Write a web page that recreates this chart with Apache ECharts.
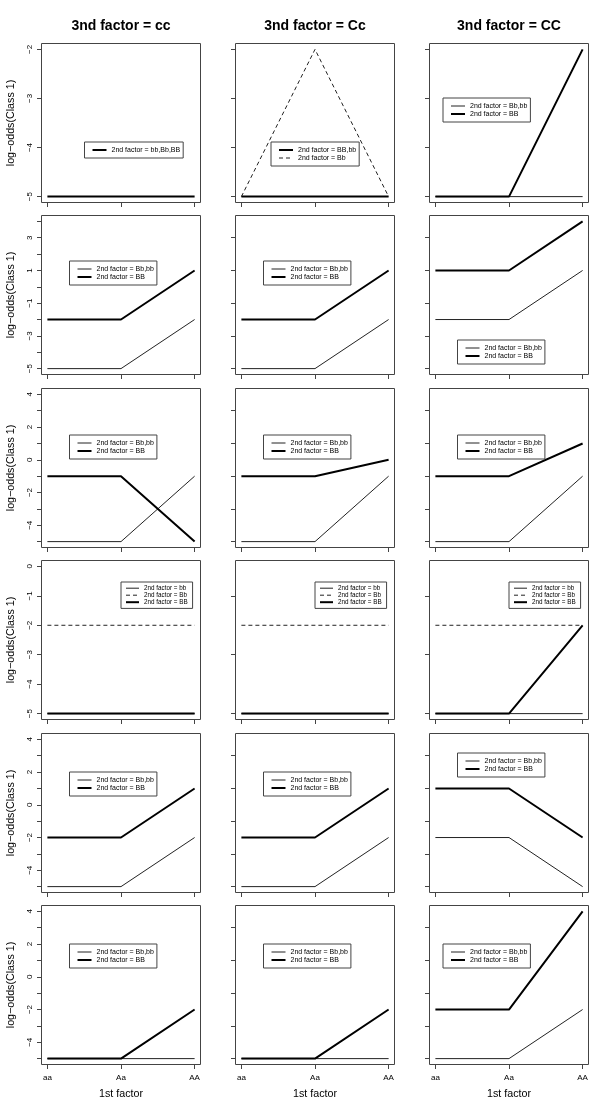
<!DOCTYPE html>
<html><head><meta charset="utf-8">
<script src="https://cdn.jsdelivr.net/npm/echarts@6/dist/echarts.min.js"></script>
<style>html,body{margin:0;padding:0;background:#fff}#c{width:600px;height:1109px}</style>
</head><body><div id="c"></div>
<script>
// ---------- text ----------
const firstFactorLevels = ['aa', 'Aa', 'AA'];
const columnTitles = ['3nd factor = cc', '3nd factor = Cc', '3nd factor = CC'];
const yAxisTitle = 'log\u2212odds(Class 1)';
const xAxisTitle = '1st factor';

// ---------- value range of each row (before R's 4% padding) ----------
const rowValueRange = [[-5, -2], [-5, 4], [-5, 4], [-5, 0], [-5, 4], [-5, 4]];

// ---------- tick values ----------
const firstColTicks = [
  [-5, -4, -3, -2],
  [-5, -4, -3, -2, -1, 0, 1, 2, 3, 4],
  [-5, -4, -3, -2, -1, 0, 1, 2, 3, 4],
  [-5, -4, -3, -2, -1, 0],
  [-5, -4, -3, -2, -1, 0, 1, 2, 3, 4],
  [-5, -4, -3, -2, -1, 0, 1, 2, 3, 4]
];
const firstColLabels = [
  [-5, -4, -3, -2],
  [-5, -3, -1, 1, 3],
  [-4, -2, 0, 2, 4],
  [-5, -4, -3, -2, -1, 0],
  [-4, -2, 0, 2, 4],
  [-4, -2, 0, 2, 4]
];
const otherColTicks = [
  [-5, -4, -3, -2],
  [-5, -3, -1, 1, 3],
  [-5, -3, -1, 1, 3],
  [-5, -3, -1],
  [-5, -3, -1, 1, 3],
  [-5, -3, -1, 1, 3]
];
const xTickValues = [1, 2, 3];

// ---------- series values (aa, Aa, AA) ----------
// row 1
const r1c1_bbBbBB = [-5, -5, -5];
const r1c2_BBbb = [-5, -5, -5];
const r1c2_Bb = [-5, -2, -5];
const r1c3_Bbbb = [-5, -5, -5];
const r1c3_BB = [-5, -5, -2];
// row 2
const r2c1_Bbbb = [-5, -5, -2];
const r2c1_BB = [-2, -2, 1];
const r2c2_Bbbb = [-5, -5, -2];
const r2c2_BB = [-2, -2, 1];
const r2c3_Bbbb = [-2, -2, 1];
const r2c3_BB = [1, 1, 4];
// row 3
const r3c1_Bbbb = [-5, -5, -1];
const r3c1_BB = [-1, -1, -5];
const r3c2_Bbbb = [-5, -5, -1];
const r3c2_BB = [-1, -1, 0];
const r3c3_Bbbb = [-5, -5, -1];
const r3c3_BB = [-1, -1, 1];
// row 4
const r4c1_bb = [-5, -5, -5];
const r4c1_Bb = [-2, -2, -2];
const r4c1_BB = [-5, -5, -5];
const r4c2_bb = [-5, -5, -5];
const r4c2_Bb = [-2, -2, -2];
const r4c2_BB = [-5, -5, -5];
const r4c3_bb = [-5, -5, -5];
const r4c3_Bb = [-2, -2, -2];
const r4c3_BB = [-5, -5, -2];
// row 5
const r5c1_Bbbb = [-5, -5, -2];
const r5c1_BB = [-2, -2, 1];
const r5c2_Bbbb = [-5, -5, -2];
const r5c2_BB = [-2, -2, 1];
const r5c3_Bbbb = [-2, -2, -5];
const r5c3_BB = [1, 1, -2];
// row 6
const r6c1_Bbbb = [-5, -5, -5];
const r6c1_BB = [-5, -5, -2];
const r6c2_Bbbb = [-5, -5, -5];
const r6c2_BB = [-5, -5, -2];
const r6c3_Bbbb = [-5, -5, -2];
const r6c3_BB = [-2, -2, 4];

// ---------- series names ----------
const N_all = '2nd factor = bb,Bb,BB';
const N_BBbb = '2nd factor = BB,bb';
const N_Bb = '2nd factor = Bb';
const N_Bbbb = '2nd factor = Bb,bb';
const N_BB = '2nd factor = BB';
const N_bb = '2nd factor = bb';

const panels = [
  { row: 0, col: 0, lines: [[N_all, r1c1_bbBbBB, 'thick']] },
  { row: 0, col: 1, lines: [[N_BBbb, r1c2_BBbb, 'thick'], [N_Bb, r1c2_Bb, 'dashed']] },
  { row: 0, col: 2, lines: [[N_Bbbb, r1c3_Bbbb, 'thin'], [N_BB, r1c3_BB, 'thick']] },
  { row: 1, col: 0, lines: [[N_Bbbb, r2c1_Bbbb, 'thin'], [N_BB, r2c1_BB, 'thick']] },
  { row: 1, col: 1, lines: [[N_Bbbb, r2c2_Bbbb, 'thin'], [N_BB, r2c2_BB, 'thick']] },
  { row: 1, col: 2, lines: [[N_Bbbb, r2c3_Bbbb, 'thin'], [N_BB, r2c3_BB, 'thick']] },
  { row: 2, col: 0, lines: [[N_Bbbb, r3c1_Bbbb, 'thin'], [N_BB, r3c1_BB, 'thick']] },
  { row: 2, col: 1, lines: [[N_Bbbb, r3c2_Bbbb, 'thin'], [N_BB, r3c2_BB, 'thick']] },
  { row: 2, col: 2, lines: [[N_Bbbb, r3c3_Bbbb, 'thin'], [N_BB, r3c3_BB, 'thick']] },
  { row: 3, col: 0, lines: [[N_bb, r4c1_bb, 'thin'], [N_Bb, r4c1_Bb, 'dashed'], [N_BB, r4c1_BB, 'thick']] },
  { row: 3, col: 1, lines: [[N_bb, r4c2_bb, 'thin'], [N_Bb, r4c2_Bb, 'dashed'], [N_BB, r4c2_BB, 'thick']] },
  { row: 3, col: 2, lines: [[N_bb, r4c3_bb, 'thin'], [N_Bb, r4c3_Bb, 'dashed'], [N_BB, r4c3_BB, 'thick']] },
  { row: 4, col: 0, lines: [[N_Bbbb, r5c1_Bbbb, 'thin'], [N_BB, r5c1_BB, 'thick']] },
  { row: 4, col: 1, lines: [[N_Bbbb, r5c2_Bbbb, 'thin'], [N_BB, r5c2_BB, 'thick']] },
  { row: 4, col: 2, lines: [[N_Bbbb, r5c3_Bbbb, 'thin'], [N_BB, r5c3_BB, 'thick']] },
  { row: 5, col: 0, lines: [[N_Bbbb, r6c1_Bbbb, 'thin'], [N_BB, r6c1_BB, 'thick']] },
  { row: 5, col: 1, lines: [[N_Bbbb, r6c2_Bbbb, 'thin'], [N_BB, r6c2_BB, 'thick']] },
  { row: 5, col: 2, lines: [[N_Bbbb, r6c3_Bbbb, 'thin'], [N_BB, r6c3_BB, 'thick']] }
];

// ---------- layout & styles ----------
const FONT = '"Liberation Sans", Arial, Helvetica, sans-serif';
const boxLeft = [41.5, 235.5, 429.5];
const boxTop = [43.5, 215.5, 388.5, 560.5, 733.5, 905.5];
const boxSize = 159;
const legendPlace = [ // [offset from box left, absolute top]
  [[43, 142], [35.5, 142], [13.5, 98]],
  [[28, 261], [28, 261], [28, 340]],
  [[28, 435], [28, 435], [28, 435]],
  [[79.5, 582], [79.5, 582], [79.5, 582]],
  [[28, 772], [28, 772], [28, 753]],
  [[28, 944], [28, 944], [13.5, 944]]
];
const lineStyles = {
  thin: { color: '#222', width: 1, type: 'solid' },
  thick: { color: '#000', width: 2, type: 'solid' },
  dashed: { color: '#222', width: 1, type: [4, 3] }
};
const minusFmt = v => (v < 0 ? '\u2212' + Math.abs(v) : String(v));

const grid = [], xAxis = [], yAxis = [], series = [], legend = [], title = [];

columnTitles.forEach((t, c) => {
  title.push({
    text: t, left: boxLeft[c] + boxSize / 2, top: 19, textAlign: 'center', padding: 0,
    textStyle: { fontSize: 14, fontWeight: 'bold', fontFamily: FONT, color: '#000' }
  });
});

panels.forEach((p, i) => {
  const [lo, hi] = rowValueRange[p.row];
  const pad = (hi - lo) * 0.04;
  const isBottom = p.row === 5;
  const isLeft = p.col === 0;
  grid.push({
    left: boxLeft[p.col], top: boxTop[p.row], width: boxSize, height: boxSize,
    show: true, borderColor: '#444', borderWidth: 1, backgroundColor: 'transparent'
  });
  xAxis.push({
    type: 'value', gridIndex: i, min: 0.92, max: 3.08, position: 'bottom',
    splitLine: { show: false }, axisLine: { show: false, onZero: false },
    axisTick: { show: true, length: 4.5, customValues: xTickValues, lineStyle: { color: '#444' } },
    axisLabel: {
      show: isBottom, customValues: xTickValues, margin: 9.5, fontSize: 8, fontFamily: FONT, color: '#000',
      formatter: v => firstFactorLevels[Math.round(v) - 1]
    },
    name: isBottom ? xAxisTitle : '', nameLocation: 'middle', nameGap: 24,
    nameTextStyle: { fontSize: 10.7, fontFamily: FONT, color: '#000' }
  });
  yAxis.push({
    type: 'value', gridIndex: i, min: lo - pad, max: hi + pad, position: 'left',
    splitLine: { show: false }, axisLine: { show: false, onZero: false },
    axisTick: { show: true, length: 4.5, customValues: isLeft ? firstColTicks[p.row] : otherColTicks[p.row], lineStyle: { color: '#444' } },
    axisLabel: {
      show: isLeft, customValues: firstColLabels[p.row], rotate: 90, margin: 8,
      fontSize: 8, fontFamily: FONT, color: '#000', formatter: minusFmt
    },
    name: isLeft ? yAxisTitle : '', nameLocation: 'middle', nameGap: 25,
    nameTextStyle: { fontSize: 10.7, fontFamily: FONT, color: '#000' }
  });
  p.lines.forEach(([name, values, style]) => {
    series.push({
      type: 'line', name, xAxisIndex: i, yAxisIndex: i,
      data: values.map((v, k) => [xTickValues[k], v]),
      symbol: 'none', showSymbol: false, silent: true, animation: false,
      lineStyle: Object.assign({}, lineStyles[style]),
      z: style === 'thick' ? 3 : 2
    });
  });
  const small = p.row === 3;
  const [dx, top] = legendPlace[p.row][p.col];
  legend.push({
    orient: 'vertical', left: boxLeft[p.col] + dx, top: top, align: 'left',
    itemWidth: small ? 13 : 14, itemHeight: small ? 6.2 : 7.5, itemGap: 1,
    padding: small ? [3.2, 5, 3.2, 4] : [4.5, 3, 4.5, 7],
    borderColor: '#444', borderWidth: 1, backgroundColor: '#fff', borderRadius: 0,
    selectedMode: false,
    itemStyle: { opacity: 0 },
    textStyle: { fontSize: small ? 6.3 : 7, fontFamily: FONT, color: '#000' },
    data: p.lines.map(([name, , style]) => ({ name, lineStyle: Object.assign({}, lineStyles[style]) }))
  });
});

const chart = echarts.init(document.getElementById('c'), null, { renderer: 'canvas' });
chart.setOption({ animation: false, backgroundColor: '#fff', title, grid, xAxis, yAxis, series, legend });
</script>
</body></html>
